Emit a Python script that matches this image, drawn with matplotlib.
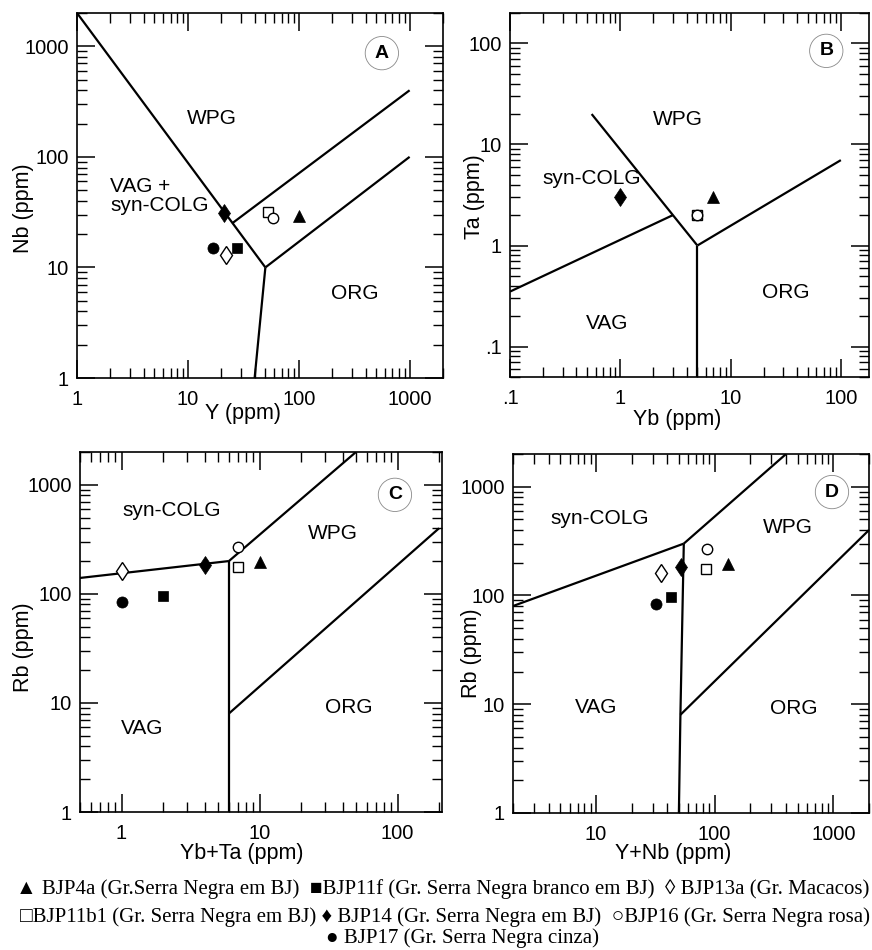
import numpy as np
import matplotlib.pyplot as plt
from matplotlib.ticker import FixedLocator, FixedFormatter, LogLocator, NullFormatter

plt.rcParams['font.family'] = ['Liberation Sans', 'DejaVu Sans']

# sample analyses (ppm)
samples = ['BJP4a', 'BJP11f', 'BJP13a', 'BJP11b1', 'BJP14', 'BJP16', 'BJP17']
y_ppm = [100, 28, 22, 53, 21, 58, 17]
nb_ppm = [29, 15, 13, 32, 31, 28, 15]
yb_ppm = [7, 2, 1, 5, 1, 5, 1]
ta_ppm = [3, np.nan, np.nan, 2, 3, 2, np.nan]
rb_ppm = [195, 96, 162, 177, 184, 270, 84]

# marker style per sample: marker, face colour, size
markers = ['^', 's', 'd', 's', 'd', 'o', 'o']
faces = ['black', 'black', 'white', 'white', 'black', 'white', 'black']
msizes = [8.5, 7.5, 9.5, 7.5, 9.5, 7.5, 8]

# Pearce et al. (1984) field boundaries
bounds_a = [([1, 50], [2000, 10]), ([50, 40], [10, 1]),
            ([25, 1000], [25, 400]), ([50, 1000], [10, 100])]
bounds_b = [([0.55, 3, 5], [20, 2, 1]), ([0.1, 3], [0.35, 2]),
            ([5, 5], [1, 0.05]), ([5, 100], [1, 7])]
bounds_c = [([0.5, 6], [140, 200]), ([6, 50], [200, 2000]),
            ([6, 6], [1, 200]), ([6, 200], [8, 400])]
bounds_d = [([2, 55], [80, 300]), ([55, 400], [300, 2000]),
            ([55, 51.5, 50], [300, 8, 1]), ([51.5, 2000], [8, 400])]

legend_lines = [
    '\u25B2 BJP4a (Gr.Serra Negra em BJ)  \u25A0BJP11f (Gr. Serra Negra branco em BJ)  \u25CA BJP13a (Gr. Macacos)',
    '\u25A1BJP11b1 (Gr. Serra Negra em BJ) \u2666 BJP14 (Gr. Serra Negra em BJ)  \u25CBBJP16 (Gr. Serra Negra rosa)',
    '\u25CF BJP17 (Gr. Serra Negra cinza)',
]

W, H = 872, 950
fig = plt.figure(figsize=(W / 100, H / 100), dpi=100)

TICK_FS = 14.5
REGION_FS = 15
LABEL_FS = 15.5


def make_ax(l, t, r, b):
    return fig.add_axes([l / W, 1 - b / H, (r - l) / W, (b - t) / H])


def setup(ax, xlim, ylim, xt, xl, yt, yl):
    ax.set_xscale('log')
    ax.set_yscale('log')
    ax.set_xlim(xlim)
    ax.set_ylim(ylim)
    ax.xaxis.set_major_locator(FixedLocator(xt))
    ax.xaxis.set_major_formatter(FixedFormatter(xl))
    ax.yaxis.set_major_locator(FixedLocator(yt))
    ax.yaxis.set_major_formatter(FixedFormatter(yl))
    for axis in (ax.xaxis, ax.yaxis):
        axis.set_minor_locator(LogLocator(base=10, subs=np.arange(2, 10), numticks=50))
        axis.set_minor_formatter(NullFormatter())
    ax.tick_params(which='both', direction='in', top=True, right=True, labelsize=TICK_FS)
    ax.tick_params(which='major', length=13, width=1.1)
    ax.tick_params(axis='x', which='major', pad=8.5)
    ax.tick_params(axis='y', which='major', pad=6)
    ax.tick_params(which='minor', length=7, width=1.0)
    for s in ax.spines.values():
        s.set_linewidth(1.2)


def draw_bounds(ax, bounds):
    for xs, ys in bounds:
        ax.plot(xs, ys, color='black', lw=1.6, solid_capstyle='butt')


def draw_points(ax, xs, ys):
    for i in range(len(samples)):
        if np.isnan(xs[i]) or np.isnan(ys[i]):
            continue
        ax.plot(xs[i], ys[i], marker=markers[i], ms=msizes[i], mfc=faces[i],
                mec='black', mew=1.0 if faces[i] == 'white' else 0.5,
                linestyle='none', zorder=5)


def region(ax, x, y, s, ha='center'):
    ax.text(x, y, s, ha=ha, va='center', fontsize=REGION_FS, linespacing=1.0)


def panel_letter(ax, fx, fy, letter):
    ax.text(fx, fy, letter, transform=ax.transAxes, ha='center', va='center',
            fontsize=14, fontweight='bold',
            bbox=dict(boxstyle='circle,pad=0.42', fc='white', ec='#888888', lw=0.6))


y_arr = np.array(y_ppm, dtype=float)
nb_arr = np.array(nb_ppm, dtype=float)
yb_arr = np.array(yb_ppm, dtype=float)
ta_arr = np.array(ta_ppm, dtype=float)
rb_arr = np.array(rb_ppm, dtype=float)

# A: Nb vs Y
axA = make_ax(77, 13, 443, 378)
setup(axA, (1, 2000), (1, 2000), [1, 10, 100, 1000], ['1', '10', '100', '1000'],
      [1, 10, 100, 1000], ['1', '10', '100', '1000'])
draw_bounds(axA, bounds_a)
draw_points(axA, y_arr, nb_arr)
region(axA, 16.5, 224, 'WPG')
region(axA, 2.0, 44, 'VAG +\nsyn-COLG', ha='left')
region(axA, 320, 5.8, 'ORG')
panel_letter(axA, 0.833, 0.890, 'A')

# B: Ta vs Yb
axB = make_ax(510, 13, 869, 377)
setup(axB, (0.1, 180), (0.05, 200), [0.1, 1, 10, 100], ['.1', '1', '10', '100'],
      [0.1, 1, 10, 100], ['.1', '1', '10', '100'])
draw_bounds(axB, bounds_b)
draw_points(axB, yb_arr, ta_arr)
region(axB, 3.3, 17.6, 'WPG')
region(axB, 0.55, 4.6, 'syn-COLG')
region(axB, 0.76, 0.17, 'VAG')
region(axB, 31.6, 0.34, 'ORG')
panel_letter(axB, 0.881, 0.896, 'B')

# C: Rb vs Yb+Ta
axC = make_ax(80, 452, 442, 812)
setup(axC, (0.5, 210), (1, 2000), [1, 10, 100], ['1', '10', '100'],
      [1, 10, 100, 1000], ['1', '10', '100', '1000'])
draw_bounds(axC, bounds_c)
draw_points(axC, yb_arr + np.nan_to_num(ta_arr), rb_arr)
region(axC, 2.3, 580, 'syn-COLG')
region(axC, 34, 357, 'WPG')
region(axC, 1.4, 5.8, 'VAG')
region(axC, 44, 9, 'ORG')
panel_letter(axC, 0.870, 0.881, 'C')

# D: Rb vs Y+Nb
axD = make_ax(513, 454, 869, 813)
setup(axD, (2, 2000), (1, 2000), [10, 100, 1000], ['10', '100', '1000'],
      [1, 10, 100, 1000], ['1', '10', '100', '1000'])
draw_bounds(axD, bounds_d)
draw_points(axD, y_arr + nb_arr, rb_arr)
region(axD, 10.8, 510, 'syn-COLG')
region(axD, 417, 420, 'WPG')
region(axD, 10, 9.4, 'VAG')
region(axD, 464, 9.2, 'ORG')
panel_letter(axD, 0.896, 0.894, 'D')


# axis titles
def label(x, y, s, rot=0):
    fig.text(x / W, 1 - y / H, s, ha='center', va='center', rotation=rot, fontsize=LABEL_FS)


label(23, 208, 'Nb (ppm)', 90)
label(243, 414, 'Y (ppm)')
label(474, 197, 'Ta (ppm)', 90)
label(677, 419, 'Yb (ppm)')
label(24, 647, 'Rb (ppm)', 90)
label(242, 854, 'Yb+Ta (ppm)')
label(471, 653, 'Rb (ppm)', 90)
label(673, 854, 'Y+Nb (ppm)')

# legend text
leg_fam = ['Liberation Serif', 'DejaVu Serif']
fig.text(443 / W, 1 - 889 / H, legend_lines[0], ha='center', va='center', fontsize=15, family=leg_fam)
fig.text(445 / W, 1 - 917 / H, legend_lines[1], ha='center', va='center', fontsize=15, family=leg_fam)
fig.text(463 / W, 1 - 938 / H, legend_lines[2], ha='center', va='center', fontsize=15, family=leg_fam)

fig.savefig('out.png', dpi=100)
